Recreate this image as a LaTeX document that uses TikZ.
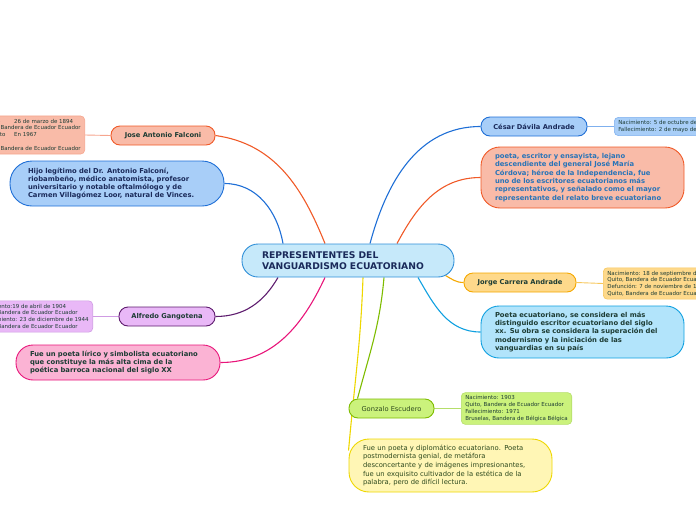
\documentclass[tikz,border=0pt]{standalone}
\usepackage{fontspec}
\setmainfont{DejaVu Sans}
\usetikzlibrary{positioning,backgrounds}

\definecolor{hubfill}{HTML}{C6E9FA}
\definecolor{hubline}{HTML}{2F8FD8}
\definecolor{ink}{HTML}{1D3C34}
\definecolor{navy}{HTML}{1A2A5A}
\definecolor{salmon}{HTML}{F9BBA8}
\definecolor{redorange}{HTML}{F05A28}
\definecolor{salmontwig}{HTML}{F6A58E}
\definecolor{skyfill}{HTML}{A8CEF8}
\definecolor{blueline}{HTML}{1F6FD6}
\definecolor{bluetwig}{HTML}{7FB0EE}
\definecolor{lilac}{HTML}{E9B8F7}
\definecolor{plum}{HTML}{5E1C6E}
\definecolor{lilactwig}{HTML}{CF9BE3}
\definecolor{pinkfill}{HTML}{FBB3D4}
\definecolor{magenta}{HTML}{E8157A}
\definecolor{peach}{HTML}{FED98B}
\definecolor{amber}{HTML}{F5A800}
\definecolor{ambertwig}{HTML}{F7C75C}
\definecolor{cyanfill}{HTML}{B2E4FB}
\definecolor{cyanline}{HTML}{0FA0E0}
\definecolor{limefill}{HTML}{CBF27C}
\definecolor{limeline}{HTML}{7EBC00}
\definecolor{limetwig}{HTML}{B5DE6A}
\definecolor{creamfill}{HTML}{FFF6B5}
\definecolor{yellowline}{HTML}{EED700}
\definecolor{prosablue}{HTML}{2874B8}
\definecolor{olive}{HTML}{2E4A1E}

\begin{document}
\begin{tikzpicture}[x=1pt, y=1pt]
  \tikzset{
    hub/.style={draw=hubline, fill=hubfill, line width=0.9pt, rounded corners=16pt,
      minimum width=212pt, minimum height=33pt, text width=172pt, inner xsep=20pt,
      align=left, text=navy, font=\fontsize{9.2}{11}\selectfont\bfseries},
    topic/.style={draw, line width=0.9pt, rounded corners=9pt, minimum height=19pt,
      inner sep=0pt, text=ink, font=\fontsize{6.7}{8}\selectfont\bfseries},
    note/.style={draw, line width=0.9pt, align=left, text width=175pt, inner xsep=14pt,
      text=ink, font=\fontsize{6.8}{8.3}\selectfont\bfseries},
    detail/.style={draw, line width=0.6pt, rounded corners=4pt, align=left,
      inner xsep=4pt, inner ysep=3pt, text=ink, font=\fontsize{5.5}{6.8}\selectfont},
    link/.style={line width=1.1pt},
    twig/.style={line width=0.9pt}
  }
  \useasboundingbox (0,0) rectangle (696,-520);
  \clip (0,0) rectangle (696,-520);

  % centre
  \node[hub] (hub) at (348,-260.5) {REPRESENTENTES DEL\\VANGUARDISMO ECUATORIANO};

  % left side
  \node[topic, fill=salmon, draw=redorange, minimum width=104pt] (falconi) at (163,-135.5) {Jose Antonio Falconi};
  \node[detail, fill=salmon, draw=salmontwig, anchor=east] (falconidet) at (85,-135)
    {\makebox[45pt][l]{Nacimiento}26 de marzo de 1894\\Riobamba, Bandera de Ecuador Ecuador\\\makebox[45pt][l]{Fallecimiento}En 1967\\[6.8pt]Riobamba, Bandera de Ecuador Ecuador};
  \node[note, fill=skyfill, draw=blueline, rounded corners=22pt, text width=178pt, inner xsep=18pt,
    minimum height=45pt, text=navy] (hijo) at (117,-183.5)
    {Hijo legítimo del Dr. Antonio Falconí,\\riobambeño, médico anatomista, profesor\\universitario y notable oftalmólogo y de\\Carmen Villagómez Loor, natural de Vinces.};
  \node[topic, fill=lilac, draw=plum, minimum width=96pt] (gangotena) at (167,-316.5) {Alfredo Gangotena};
  \node[detail, fill=lilac, draw=lilactwig, anchor=east] (gangotenadet) at (93,-316.5)
    {Nacimiento:19 de abril de 1904\\Quito, Bandera de Ecuador Ecuador\\Fallecimiento: 23 de diciembre de 1944\\Quito, Bandera de Ecuador Ecuador};
  \node[note, fill=pinkfill, draw=magenta, rounded corners=17pt, text width=176pt, inner xsep=14pt,
    minimum height=35pt] (lirico) at (118,-362.5)
    {Fue un poeta lírico y simbolista ecuatoriano\\que constituye la más alta cima de la\\poética barroca nacional del siglo XX};

  % right side
  \node[topic, fill=skyfill, draw=blueline, minimum width=106pt, text=navy] (cesar) at (534,-126.5) {César Dávila Andrade};
  \node[detail, fill=skyfill, draw=bluetwig, anchor=west] (cesardet) at (614,-126.5)
    {Nacimiento: 5 de octubre de 1918\\Fallecimiento: 2 de mayo de 1967};
  \node[note, fill=salmon, draw=redorange, rounded corners=19pt, minimum height=61pt,
    text=prosablue] (escritor) at (582.5,-177.5)
    {poeta, escritor y ensayista, lejano\\descendiente del general José María\\Córdova; héroe de la Independencia, fue\\uno de los escritores ecuatorianos más\\representativos, y señalado como el mayor\\representante del relato breve ecuatoriano};
  \node[topic, fill=peach, draw=amber, minimum width=112pt] (jorge) at (520,-282.5) {Jorge Carrera Andrade};
  \node[detail, fill=peach, draw=ambertwig, anchor=west] (jorgedet) at (603,-283.5)
    {Nacimiento: 18 de septiembre de 1903\\Quito, Bandera de Ecuador Ecuador\\Defunción: 7 de noviembre de 1978\\Quito, Bandera de Ecuador Ecuador};
  \node[note, fill=cyanfill, draw=cyanline, rounded corners=18pt, minimum height=52pt] (ecuatoriano) at (582.5,-332)
    {Poeta ecuatoriano, se considera el más\\distinguido escritor ecuatoriano del siglo\\xx. Su obra se considera la superación del\\modernismo y la iniciación de las\\vanguardias en su país};

  % bottom
  \node[topic, fill=limefill, draw=limeline, minimum width=85pt, text=olive,
    font=\fontsize{6.7}{8}\selectfont] (gonzalo) at (391.5,-408.5) {Gonzalo Escudero};
  \node[detail, fill=limefill, draw=limetwig, anchor=west] (gonzalodet) at (461,-408.5)
    {Nacimiento: 1903\\Quito, Bandera de Ecuador Ecuador\\Fallecimiento: 1971\\Bruselas, Bandera de Bélgica Bélgica};
  \node[note, fill=creamfill, draw=yellowline, rounded corners=20pt, minimum height=53pt, text=olive,
    font=\fontsize{6.8}{8.7}\selectfont] (diplomatico) at (450.5,-465.5)
    {Fue un poeta y diplomático ecuatoriano. Poeta\\postmodernista genial, de metáfora\\desconcertante y de imágenes impresionantes,\\fue un exquisito cultivador de la estética de la\\palabra, pero de difícil lectura.};

  \begin{scope}[on background layer]
    \draw[link, draw=redorange] ([xshift=-23pt]hub.north) to[out=112,in=-8] (falconi.east);
    \draw[link, draw=blueline] ([xshift=-65pt]hub.north) to[out=100,in=0] (hijo.east);
    \draw[link, draw=plum] ([xshift=-70pt]hub.south) to[out=-120,in=0] (gangotena.east);
    \draw[link, draw=magenta] ([xshift=-23pt]hub.south) to[out=-115,in=0] (lirico.east);
    \draw[link, draw=blueline] ([xshift=22pt]hub.north) to[out=75,in=180] (cesar.west);
    \draw[link, draw=redorange] ([xshift=49pt]hub.north) to[out=62,in=180] (escritor.west);
    \draw[link, draw=amber] ([xshift=-9pt,yshift=2pt]hub.south east) to[out=-30,in=180] (jorge.west);
    \draw[link, draw=cyanline] ([xshift=70pt]hub.south) to[out=-60,in=180] (ecuatoriano.west);
    \draw[link, draw=limeline] ([xshift=36pt]hub.south) to[out=-95,in=75] ([xshift=-34pt]gonzalo.north);
    \draw[link, draw=yellowline] ([xshift=15pt]hub.south) to[out=-92,in=85] ([yshift=15pt]diplomatico.west);

    \draw[twig, draw=salmontwig] (falconi.west) -- (falconidet.east);
    \draw[twig, draw=lilactwig] (gangotena.west) -- (gangotenadet.east);
    \draw[twig, draw=bluetwig] (cesar.east) -- (cesardet.west);
    \draw[twig, draw=ambertwig] (jorge.east) -- (jorgedet.west);
    \draw[twig, draw=limetwig] (gonzalo.east) -- (gonzalodet.west);
  \end{scope}
\end{tikzpicture}
\end{document}
